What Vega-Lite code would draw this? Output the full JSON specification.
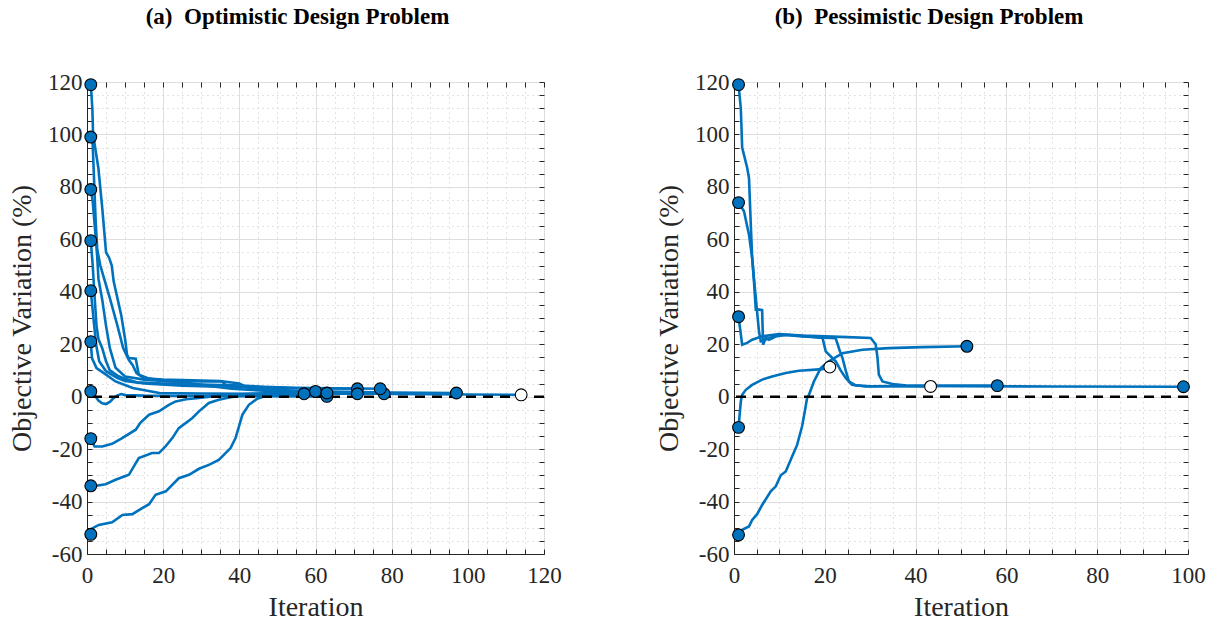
{
  "$schema": "https://vega.github.io/schema/vega-lite/v6.json",
  "background": "white",
  "padding": {"left": 8, "top": 5, "right": 5, "bottom": 5},
  "spacing": 93,
  "datasets": {
    "runs": [
      {"run": "a1", "outcome": "finished"}, {"run": "a2", "outcome": "unfinished"},
      {"run": "a3", "outcome": "finished"}, {"run": "a4", "outcome": "finished"},
      {"run": "a5", "outcome": "finished"}, {"run": "a6", "outcome": "finished"},
      {"run": "a7", "outcome": "finished"}, {"run": "a8", "outcome": "finished"},
      {"run": "a9", "outcome": "finished"}, {"run": "a10", "outcome": "finished"},
      {"run": "b1", "outcome": "finished"}, {"run": "b2", "outcome": "unfinished"},
      {"run": "b3", "outcome": "finished"}, {"run": "b4", "outcome": "unfinished"},
      {"run": "b5", "outcome": "finished"}
    ],
    "zero": [{"ref": 0}],
    "optimistic": [
      {"run":"a1","it":1,"v":119},{"run":"a1","it":1.4,"v":110},{"run":"a1","it":1.6,"v":100},{"run":"a1","it":3,"v":87},{"run":"a1","it":4,"v":72},{"run":"a1","it":5,"v":55},{"run":"a1","it":5.8,"v":53},{"run":"a1","it":6.5,"v":50},{"run":"a1","it":7,"v":44},{"run":"a1","it":9,"v":31},{"run":"a1","it":10,"v":22},{"run":"a1","it":10.5,"v":16},{"run":"a1","it":11,"v":14.7},{"run":"a1","it":12.8,"v":14.5},{"run":"a1","it":13.6,"v":8.4},{"run":"a1","it":16,"v":7},{"run":"a1","it":20,"v":6},{"run":"a1","it":30,"v":5.8},{"run":"a1","it":35.5,"v":5.8},{"run":"a1","it":36.4,"v":4.5},{"run":"a1","it":42,"v":4},{"run":"a1","it":47.8,"v":3.5},{"run":"a1","it":50,"v":2.5},{"run":"a1","it":60,"v":2},{"run":"a1","it":80,"v":1.6},{"run":"a1","it":97,"v":1.4},
      {"run":"a2","it":1,"v":99},{"run":"a2","it":1.5,"v":96},{"run":"a2","it":2.3,"v":66},{"run":"a2","it":2.7,"v":56},{"run":"a2","it":3.5,"v":50},{"run":"a2","it":4.5,"v":45},{"run":"a2","it":6,"v":37.6},{"run":"a2","it":8,"v":27},{"run":"a2","it":9.5,"v":18.5},{"run":"a2","it":11,"v":14},{"run":"a2","it":12,"v":12},{"run":"a2","it":13,"v":9},{"run":"a2","it":15,"v":7},{"run":"a2","it":20,"v":6.5},{"run":"a2","it":25,"v":6.3},{"run":"a2","it":35,"v":6},{"run":"a2","it":40,"v":5},{"run":"a2","it":42,"v":3.5},{"run":"a2","it":50,"v":2.5},{"run":"a2","it":60,"v":1.5},{"run":"a2","it":80,"v":1},{"run":"a2","it":100,"v":0.8},{"run":"a2","it":114,"v":0.7},
      {"run":"a3","it":1,"v":79},{"run":"a3","it":1.5,"v":74.5},{"run":"a3","it":2.3,"v":60.5},{"run":"a3","it":2.7,"v":53},{"run":"a3","it":3,"v":45},{"run":"a3","it":4,"v":37},{"run":"a3","it":5,"v":27},{"run":"a3","it":6,"v":18.5},{"run":"a3","it":7.5,"v":11},{"run":"a3","it":10,"v":7.7},{"run":"a3","it":15,"v":6.5},{"run":"a3","it":25,"v":5.5},{"run":"a3","it":30,"v":4.5},{"run":"a3","it":38,"v":3},{"run":"a3","it":50,"v":2},{"run":"a3","it":65,"v":1.4},{"run":"a3","it":78,"v":1.1},
      {"run":"a4","it":1,"v":59.5},{"run":"a4","it":1.5,"v":50},{"run":"a4","it":2,"v":38},{"run":"a4","it":2.5,"v":27},{"run":"a4","it":3,"v":22},{"run":"a4","it":4,"v":18.5},{"run":"a4","it":5,"v":13.5},{"run":"a4","it":6,"v":10},{"run":"a4","it":8,"v":8},{"run":"a4","it":10,"v":6.8},{"run":"a4","it":13,"v":5.5},{"run":"a4","it":20,"v":5},{"run":"a4","it":30,"v":4.6},{"run":"a4","it":40,"v":4.2},{"run":"a4","it":46,"v":3.8},{"run":"a4","it":55,"v":3.4},{"run":"a4","it":65,"v":3.2},{"run":"a4","it":77,"v":3},
      {"run":"a5","it":1,"v":40.4},{"run":"a5","it":1.6,"v":31.3},{"run":"a5","it":2.4,"v":19.8},{"run":"a5","it":3.2,"v":13.5},{"run":"a5","it":5,"v":9.7},{"run":"a5","it":8,"v":7.1},{"run":"a5","it":10,"v":6},{"run":"a5","it":15,"v":5},{"run":"a5","it":25,"v":4.2},{"run":"a5","it":35,"v":3.8},{"run":"a5","it":45,"v":3.5},{"run":"a5","it":55,"v":3.2},{"run":"a5","it":71,"v":3},
      {"run":"a6","it":1,"v":21},{"run":"a6","it":1.3,"v":14.7},{"run":"a6","it":2.5,"v":10.9},{"run":"a6","it":5,"v":8.4},{"run":"a6","it":7.5,"v":5.8},{"run":"a6","it":12,"v":3.3},{"run":"a6","it":19,"v":1.4},{"run":"a6","it":30,"v":1.2},{"run":"a6","it":45,"v":1.1},{"run":"a6","it":60,"v":1.1},{"run":"a6","it":71,"v":1.1},
      {"run":"a7","it":1,"v":2},{"run":"a7","it":2,"v":0.5},{"run":"a7","it":3,"v":-1.5},{"run":"a7","it":4,"v":-2.5},{"run":"a7","it":5,"v":-2.8},{"run":"a7","it":6,"v":-2},{"run":"a7","it":7,"v":-0.5},{"run":"a7","it":8,"v":0.5},{"run":"a7","it":9,"v":1},{"run":"a7","it":10,"v":0.6},{"run":"a7","it":15,"v":0.4},{"run":"a7","it":30,"v":0.3},{"run":"a7","it":45,"v":0.2},{"run":"a7","it":63,"v":0.1},
      {"run":"a8","it":1,"v":-16},{"run":"a8","it":2,"v":-19},{"run":"a8","it":4,"v":-19},{"run":"a8","it":6.6,"v":-18},{"run":"a8","it":9,"v":-16},{"run":"a8","it":12.8,"v":-12.6},{"run":"a8","it":14,"v":-10},{"run":"a8","it":16.3,"v":-6.9},{"run":"a8","it":18.9,"v":-5.6},{"run":"a8","it":21.5,"v":-3.1},{"run":"a8","it":23.3,"v":-1.8},{"run":"a8","it":26,"v":-1},{"run":"a8","it":29.4,"v":-0.5},{"run":"a8","it":35,"v":0.5},{"run":"a8","it":45,"v":1.2},{"run":"a8","it":55,"v":1.8},{"run":"a8","it":60,"v":2},
      {"run":"a9","it":1,"v":-34},{"run":"a9","it":1.4,"v":-34.2},{"run":"a9","it":4.9,"v":-33.4},{"run":"a9","it":7.5,"v":-31.7},{"run":"a9","it":11,"v":-29.8},{"run":"a9","it":13.6,"v":-23.4},{"run":"a9","it":17.1,"v":-21.5},{"run":"a9","it":18.9,"v":-21.5},{"run":"a9","it":20.6,"v":-19},{"run":"a9","it":22.4,"v":-15.8},{"run":"a9","it":24.1,"v":-12},{"run":"a9","it":27.6,"v":-8.2},{"run":"a9","it":29.4,"v":-5.6},{"run":"a9","it":32,"v":-2.4},{"run":"a9","it":34.6,"v":-1.2},{"run":"a9","it":37.3,"v":-0.3},{"run":"a9","it":40,"v":0.3},{"run":"a9","it":50,"v":1},{"run":"a9","it":63,"v":1.4},
      {"run":"a10","it":1,"v":-52.5},{"run":"a10","it":1.4,"v":-50.2},{"run":"a10","it":3.1,"v":-48.9},{"run":"a10","it":6.6,"v":-47.9},{"run":"a10","it":9.3,"v":-45.1},{"run":"a10","it":11.9,"v":-44.8},{"run":"a10","it":14.5,"v":-42.5},{"run":"a10","it":16.3,"v":-41},{"run":"a10","it":18,"v":-37.4},{"run":"a10","it":20.7,"v":-36.1},{"run":"a10","it":24.1,"v":-31.1},{"run":"a10","it":26.8,"v":-29.8},{"run":"a10","it":29.4,"v":-27.5},{"run":"a10","it":32,"v":-26},{"run":"a10","it":34.6,"v":-24.1},{"run":"a10","it":37.7,"v":-19.6},{"run":"a10","it":39,"v":-15.8},{"run":"a10","it":40.8,"v":-6.9},{"run":"a10","it":42.5,"v":-3.1},{"run":"a10","it":44.7,"v":-0.8},{"run":"a10","it":47,"v":0.3},{"run":"a10","it":52,"v":0.8},{"run":"a10","it":57,"v":1.1}
    ],
    "pessimistic": [
      {"run":"b1","it":1,"v":119},{"run":"b1","it":1.5,"v":110},{"run":"b1","it":1.8,"v":95},{"run":"b1","it":2.9,"v":87.3},{"run":"b1","it":3.3,"v":83.4},{"run":"b1","it":3.7,"v":65.6},{"run":"b1","it":4,"v":52.9},{"run":"b1","it":4.4,"v":45},{"run":"b1","it":4.8,"v":37.6},{"run":"b1","it":5.5,"v":24.9},{"run":"b1","it":5.9,"v":21.1},{"run":"b1","it":6.5,"v":21.5},{"run":"b1","it":8,"v":22.5},{"run":"b1","it":10,"v":23.5},{"run":"b1","it":12,"v":23.4},{"run":"b1","it":15,"v":23},{"run":"b1","it":19,"v":22.6},{"run":"b1","it":22.4,"v":22.3},{"run":"b1","it":23.2,"v":18},{"run":"b1","it":23.9,"v":14.7},{"run":"b1","it":24.6,"v":10},{"run":"b1","it":25.3,"v":5.8},{"run":"b1","it":26.8,"v":4.3},{"run":"b1","it":30,"v":4},{"run":"b1","it":40,"v":4.1},{"run":"b1","it":50,"v":4.2},{"run":"b1","it":58,"v":4.2},
      {"run":"b2","it":1,"v":74},{"run":"b2","it":2.2,"v":70.7},{"run":"b2","it":3.3,"v":61.8},{"run":"b2","it":4,"v":52.9},{"run":"b2","it":4.4,"v":44},{"run":"b2","it":4.8,"v":33.2},{"run":"b2","it":5.6,"v":33.2},{"run":"b2","it":6.2,"v":33},{"run":"b2","it":6.4,"v":19.8},{"run":"b2","it":7,"v":22.4},{"run":"b2","it":7.7,"v":21.7},{"run":"b2","it":8.5,"v":22.3},{"run":"b2","it":9.2,"v":23},{"run":"b2","it":11.4,"v":23.6},{"run":"b2","it":15,"v":23.2},{"run":"b2","it":19.5,"v":22.4},{"run":"b2","it":20.2,"v":17.3},{"run":"b2","it":22.4,"v":13.5},{"run":"b2","it":23.5,"v":10},{"run":"b2","it":24.6,"v":7.1},{"run":"b2","it":26,"v":4.5},{"run":"b2","it":29,"v":3.9},{"run":"b2","it":35,"v":4},{"run":"b2","it":43.3,"v":3.9},
      {"run":"b3","it":1,"v":30.5},{"run":"b3","it":1.8,"v":19.8},{"run":"b3","it":2.9,"v":20.5},{"run":"b3","it":4,"v":21.7},{"run":"b3","it":6.2,"v":23},{"run":"b3","it":9.9,"v":23.9},{"run":"b3","it":15,"v":23.3},{"run":"b3","it":20,"v":23},{"run":"b3","it":25,"v":22.7},{"run":"b3","it":30.1,"v":22.4},{"run":"b3","it":31.2,"v":20},{"run":"b3","it":31.6,"v":15},{"run":"b3","it":31.9,"v":8.4},{"run":"b3","it":32.7,"v":5.8},{"run":"b3","it":34.9,"v":4.8},{"run":"b3","it":38,"v":4.2},{"run":"b3","it":50,"v":4},{"run":"b3","it":70,"v":3.9},{"run":"b3","it":99,"v":3.8},
      {"run":"b4","it":1,"v":-11.7},{"run":"b4","it":1.5,"v":-1.8},{"run":"b4","it":1.8,"v":0.7},{"run":"b4","it":2.6,"v":2.6},{"run":"b4","it":4,"v":4.5},{"run":"b4","it":6.2,"v":6.5},{"run":"b4","it":8.4,"v":7.7},{"run":"b4","it":11.4,"v":9},{"run":"b4","it":14.3,"v":9.9},{"run":"b4","it":19.5,"v":10.5},{"run":"b4","it":21.1,"v":11.3},
      {"run":"b5","it":1,"v":-52.7},{"run":"b5","it":1.8,"v":-50.8},{"run":"b5","it":3.3,"v":-49.5},{"run":"b5","it":4,"v":-47},{"run":"b5","it":5.1,"v":-44.8},{"run":"b5","it":6.2,"v":-41.3},{"run":"b5","it":8.1,"v":-36.1},{"run":"b5","it":9.2,"v":-34.2},{"run":"b5","it":10.3,"v":-30},{"run":"b5","it":11.4,"v":-28.5},{"run":"b5","it":12.8,"v":-22.8},{"run":"b5","it":13.9,"v":-18.4},{"run":"b5","it":15,"v":-11.3},{"run":"b5","it":15.6,"v":-5.6},{"run":"b5","it":16.1,"v":-0.5},{"run":"b5","it":16.5,"v":0.7},{"run":"b5","it":17.6,"v":5.8},{"run":"b5","it":19.1,"v":10.9},{"run":"b5","it":20.9,"v":13.5},{"run":"b5","it":23.9,"v":16.6},{"run":"b5","it":28.3,"v":17.9},{"run":"b5","it":34.1,"v":18.5},{"run":"b5","it":41.5,"v":18.9},{"run":"b5","it":51.3,"v":19.2}
    ]
  },
  "hconcat": [
    {
      "title": {"text": "(a)\u00a0 Optimistic Design Problem", "dx": -18},
      "width": 457,
      "height": 472,
      "resolve": {"axis": {"x": "independent", "y": "independent"}},
      "layer": [
        {
          "data": {"name": "optimistic"},
          "mark": {"type": "line", "color": "#0072BD", "strokeWidth": 2.6, "clip": true},
          "encoding": {
            "x": {"field": "it", "type": "quantitative", "title": "Iteration",
              "scale": {"domain": [0, 120], "nice": false, "zero": false},
              "axis": {"orient": "bottom", "labelPadding": 15, "titlePadding": 6, "values": [0,5,10,15,20,25,30,35,40,45,50,55,60,65,70,75,80,85,90,95,100,105,110,115,120],
                "labelExpr": "datum.value % 20 === 0 ? '' + datum.value : ''",
                "grid": true,
                "gridColor": {"condition": {"test": "datum.value % 20 === 0", "value": "#dedede"}, "value": "#c4c4c4"},
                "gridDash": {"condition": {"test": "datum.value % 20 === 0", "value": []}, "value": [1, 4]}}},
            "y": {"field": "v", "type": "quantitative", "title": "Objective Variation (%)",
              "scale": {"domain": [-60, 120], "nice": false, "zero": false},
              "axis": {"orient": "left", "titlePadding": 11, "values": [-60,-55,-50,-45,-40,-35,-30,-25,-20,-15,-10,-5,0,5,10,15,20,25,30,35,40,45,50,55,60,65,70,75,80,85,90,95,100,105,110,115,120],
                "labelExpr": "datum.value % 20 === 0 ? '' + datum.value : ''",
                "grid": true,
                "gridColor": {"condition": {"test": "datum.value % 20 === 0", "value": "#dedede"}, "value": "#c4c4c4"},
                "gridDash": {"condition": {"test": "datum.value % 20 === 0", "value": []}, "value": [1, 4]}}},
            "detail": {"field": "run"},
            "order": {"field": "it", "type": "quantitative"}
          }
        },
        {
          "data": {"name": "zero"},
          "mark": {"type": "rule", "color": "black", "strokeWidth": 2.5, "strokeDash": [10, 7]},
          "encoding": {"y": {"field": "ref", "type": "quantitative", "axis": null}}
        },
        {
          "data": {"name": "optimistic"},
          "transform": [
            {"joinaggregate": [{"op": "min", "field": "it", "as": "first"}, {"op": "max", "field": "it", "as": "last"}], "groupby": ["run"]},
            {"filter": "datum.it === datum.first || datum.it === datum.last"},
            {"lookup": "run", "from": {"data": {"name": "runs"}, "key": "run", "fields": ["outcome"]}}
          ],
          "mark": {"type": "circle", "size": 140, "stroke": "black", "strokeWidth": 1.1, "opacity": 1},
          "encoding": {
            "x": {"field": "it", "type": "quantitative",
              "axis": {"orient": "top", "values": [0,5,10,15,20,25,30,35,40,45,50,55,60,65,70,75,80,85,90,95,100,105,110,115,120], "labels": false, "domain": false, "grid": false, "title": null}},
            "y": {"field": "v", "type": "quantitative",
              "axis": {"orient": "right", "values": [-60,-55,-50,-45,-40,-35,-30,-25,-20,-15,-10,-5,0,5,10,15,20,25,30,35,40,45,50,55,60,65,70,75,80,85,90,95,100,105,110,115,120], "labels": false, "domain": false, "grid": false, "title": null}},
            "fill": {"condition": {"test": "datum.it === datum.last && datum.outcome === 'unfinished'", "value": "white"}, "value": "#0072BD"}
          }
        }
      ]
    },
    {
      "title": {"text": "(b)\u00a0 Pessimistic Design Problem", "dx": -32},
      "width": 454,
      "height": 472,
      "resolve": {"axis": {"x": "independent", "y": "independent"}},
      "layer": [
        {
          "data": {"name": "pessimistic"},
          "mark": {"type": "line", "color": "#0072BD", "strokeWidth": 2.6, "clip": true},
          "encoding": {
            "x": {"field": "it", "type": "quantitative", "title": "Iteration",
              "scale": {"domain": [0, 100], "nice": false, "zero": false},
              "axis": {"orient": "bottom", "labelPadding": 15, "titlePadding": 6, "values": [0,5,10,15,20,25,30,35,40,45,50,55,60,65,70,75,80,85,90,95,100],
                "labelExpr": "datum.value % 20 === 0 ? '' + datum.value : ''",
                "grid": true,
                "gridColor": {"condition": {"test": "datum.value % 20 === 0", "value": "#dedede"}, "value": "#c4c4c4"},
                "gridDash": {"condition": {"test": "datum.value % 20 === 0", "value": []}, "value": [1, 4]}}},
            "y": {"field": "v", "type": "quantitative", "title": "Objective Variation (%)",
              "scale": {"domain": [-60, 120], "nice": false, "zero": false},
              "axis": {"orient": "left", "titlePadding": 11, "values": [-60,-55,-50,-45,-40,-35,-30,-25,-20,-15,-10,-5,0,5,10,15,20,25,30,35,40,45,50,55,60,65,70,75,80,85,90,95,100,105,110,115,120],
                "labelExpr": "datum.value % 20 === 0 ? '' + datum.value : ''",
                "grid": true,
                "gridColor": {"condition": {"test": "datum.value % 20 === 0", "value": "#dedede"}, "value": "#c4c4c4"},
                "gridDash": {"condition": {"test": "datum.value % 20 === 0", "value": []}, "value": [1, 4]}}},
            "detail": {"field": "run"},
            "order": {"field": "it", "type": "quantitative"}
          }
        },
        {
          "data": {"name": "zero"},
          "mark": {"type": "rule", "color": "black", "strokeWidth": 2.5, "strokeDash": [10, 7]},
          "encoding": {"y": {"field": "ref", "type": "quantitative", "axis": null}}
        },
        {
          "data": {"name": "pessimistic"},
          "transform": [
            {"joinaggregate": [{"op": "min", "field": "it", "as": "first"}, {"op": "max", "field": "it", "as": "last"}], "groupby": ["run"]},
            {"filter": "datum.it === datum.first || datum.it === datum.last"},
            {"lookup": "run", "from": {"data": {"name": "runs"}, "key": "run", "fields": ["outcome"]}}
          ],
          "mark": {"type": "circle", "size": 140, "stroke": "black", "strokeWidth": 1.1, "opacity": 1},
          "encoding": {
            "x": {"field": "it", "type": "quantitative",
              "axis": {"orient": "top", "values": [0,5,10,15,20,25,30,35,40,45,50,55,60,65,70,75,80,85,90,95,100], "labels": false, "domain": false, "grid": false, "title": null}},
            "y": {"field": "v", "type": "quantitative",
              "axis": {"orient": "right", "values": [-60,-55,-50,-45,-40,-35,-30,-25,-20,-15,-10,-5,0,5,10,15,20,25,30,35,40,45,50,55,60,65,70,75,80,85,90,95,100,105,110,115,120], "labels": false, "domain": false, "grid": false, "title": null}},
            "fill": {"condition": {"test": "datum.it === datum.last && datum.outcome === 'unfinished'", "value": "white"}, "value": "#0072BD"}
          }
        }
      ]
    }
  ],
  "config": {
    "font": "Liberation Serif",
    "view": {"stroke": "#262626", "strokeWidth": 1},
    "title": {"font": "Liberation Serif", "fontSize": 23, "fontWeight": "bold", "color": "#000000", "offset": 42, "anchor": "middle", "frame": "group"},
    "axis": {
      "domainColor": "#262626", "domainWidth": 1,
      "tickColor": "#262626", "tickWidth": 1, "tickSize": -5,
      "labelColor": "#262626", "labelFont": "Liberation Serif", "labelFontSize": 23,
      "labelPadding": 10, "labelFlush": false, "labelOverlap": false,
      "titleColor": "#262626", "titleFont": "Liberation Serif", "titleFontSize": 28, "titleFontWeight": "normal"
    }
  }
}
